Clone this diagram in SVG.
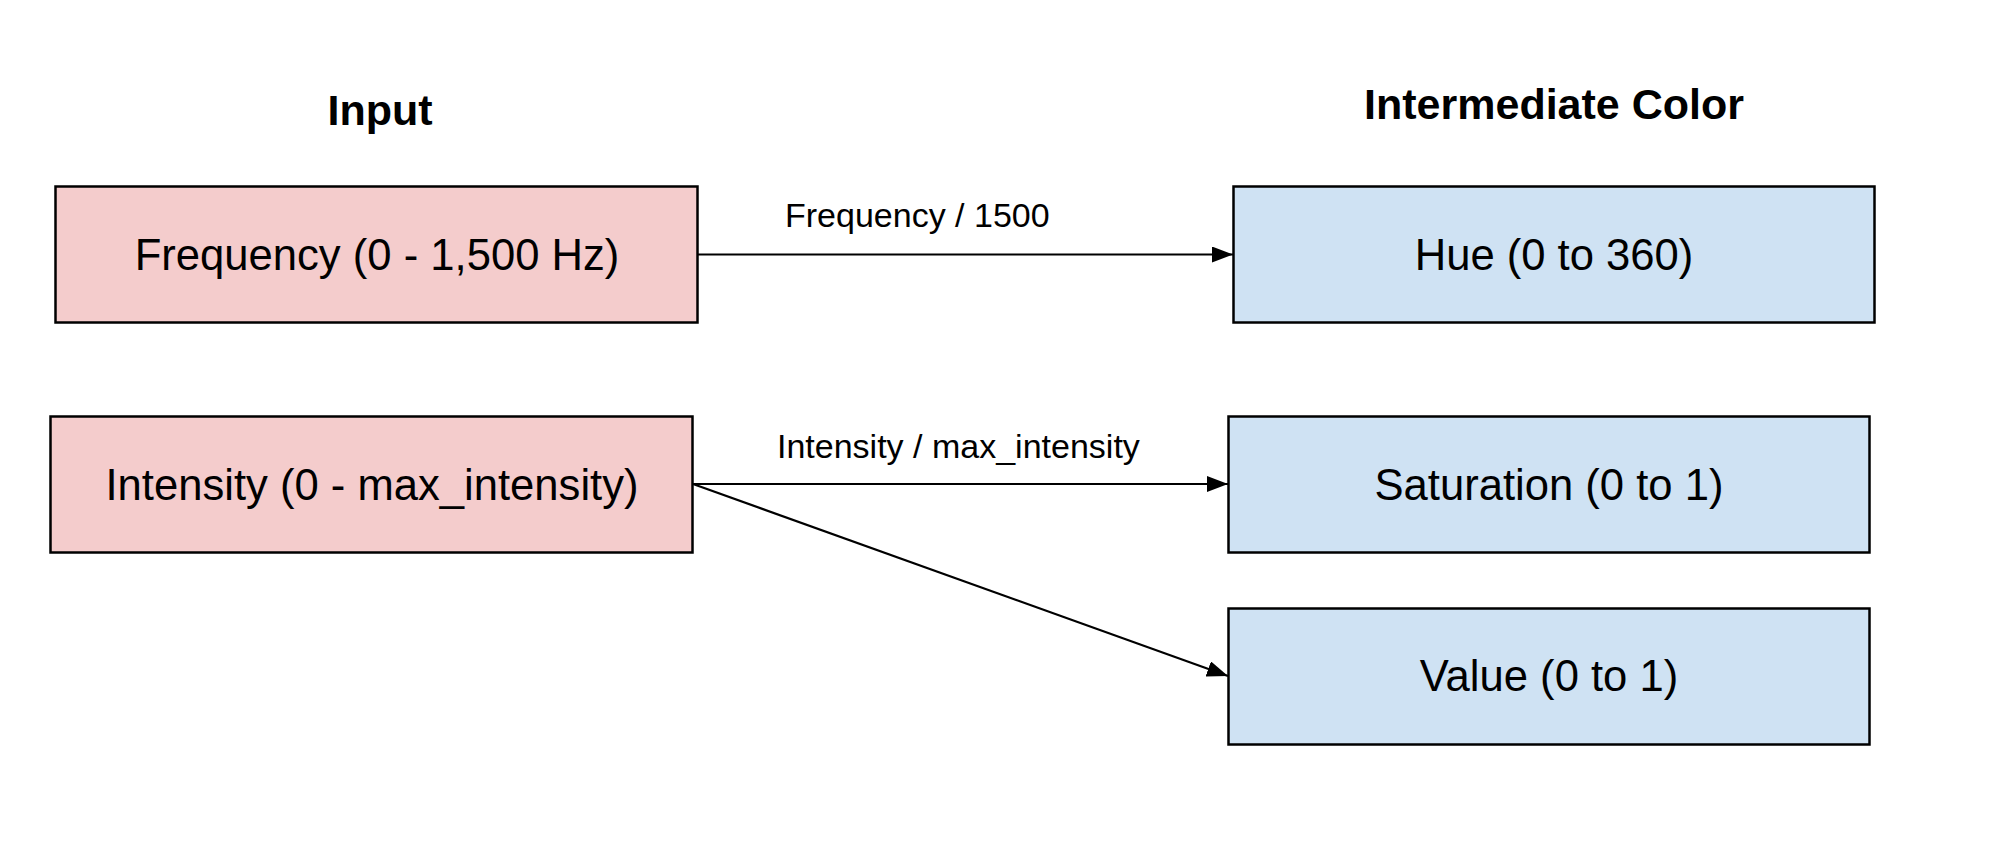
<svg xmlns="http://www.w3.org/2000/svg" width="1999" height="841" viewBox="0 0 1999 841">
<style>
.title{font-family:"Liberation Sans",Arial,sans-serif;font-weight:bold;font-size:43px;fill:#000}
.node rect{stroke:#000;stroke-width:2.5}
.in rect{fill:#f4cccc}
.out rect{fill:#cfe2f3}
.node text{font-family:"Liberation Sans",Arial,sans-serif;font-size:43.6px;fill:#000;text-anchor:middle}
.edge line{stroke:#000;stroke-width:2.2;marker-end:url(#arr)}
.lbl{font-family:"Liberation Sans",Arial,sans-serif;font-size:34px;fill:#000}
</style>
<defs>
<marker id="arr" markerUnits="userSpaceOnUse" markerWidth="22" markerHeight="16" refX="21" refY="8" orient="auto">
<path d="M0,0 L21,8 L0,16 Z" fill="#000"/>
</marker>
</defs>
<rect width="1999" height="841" fill="#fff"/>
<text class="title" x="380" y="125" text-anchor="middle">Input</text>
<text class="title" x="1554" y="119" text-anchor="middle">Intermediate Color</text>
<g id="connectors" class="edge">
<line x1="698" y1="254.5" x2="1233" y2="254.5"/>
<line x1="693" y1="484" x2="1228" y2="484"/>
<line x1="693" y1="484" x2="1228" y2="676"/>
<text class="lbl" x="785" y="227">Frequency / 1500</text>
<text class="lbl" x="777" y="458">Intensity / max_intensity</text>
</g>
<g id="frequency" class="node in">
<rect x="55.5" y="186.5" width="642" height="136"/>
<text x="377" y="270">Frequency (0 - 1,500 Hz)</text>
</g>
<g id="intensity" class="node in">
<rect x="50.5" y="416.5" width="642" height="136"/>
<text x="372" y="500">Intensity (0 - max_intensity)</text>
</g>
<g id="hue" class="node out">
<rect x="1233.5" y="186.5" width="641" height="136"/>
<text x="1554" y="270">Hue (0 to 360)</text>
</g>
<g id="saturation" class="node out">
<rect x="1228.5" y="416.5" width="641" height="136"/>
<text x="1549" y="500">Saturation (0 to 1)</text>
</g>
<g id="value" class="node out">
<rect x="1228.5" y="608.5" width="641" height="136"/>
<text x="1549" y="691">Value (0 to 1)</text>
</g>
</svg>
